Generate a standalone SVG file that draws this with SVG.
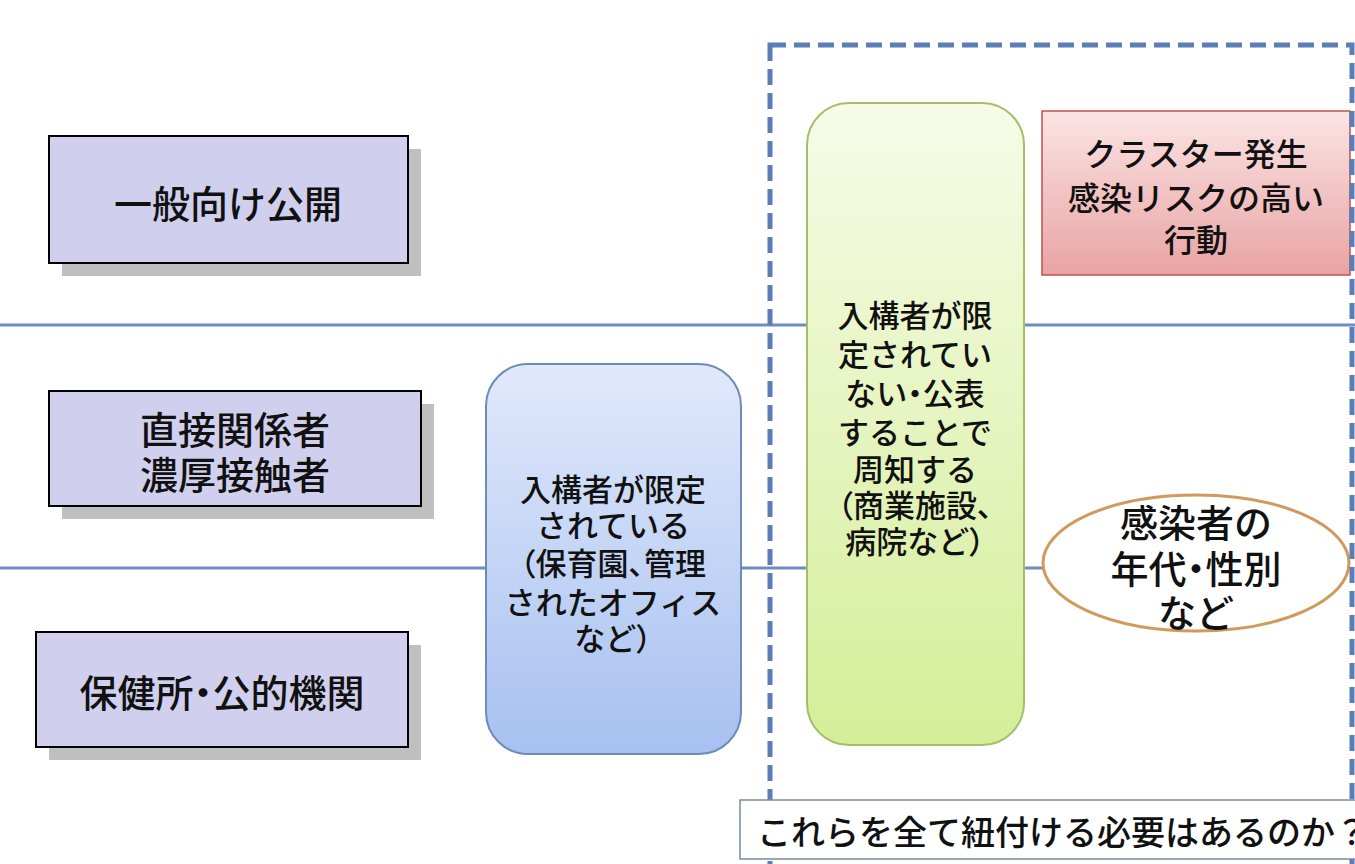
<svg xmlns="http://www.w3.org/2000/svg" width="1355" height="864" viewBox="0 0 1355 864">
<defs>
<linearGradient id="gBlue" x1="0" y1="0" x2="0" y2="1"><stop offset="0" stop-color="#e1e9fb"/><stop offset="1" stop-color="#a7c0f0"/></linearGradient>
<linearGradient id="gGreen" x1="0" y1="0" x2="0" y2="1"><stop offset="0" stop-color="#f7fbe8"/><stop offset="1" stop-color="#d4ee98"/></linearGradient>
<linearGradient id="gRed" x1="0" y1="0" x2="0" y2="1"><stop offset="0" stop-color="#fbe4e4"/><stop offset="1" stop-color="#e9a3a3"/></linearGradient>
<style>
text{font-family:"Noto Sans CJK JP","Noto Sans",sans-serif;fill:#111;text-anchor:middle;dominant-baseline:central;font-weight:500}
.p{font-feature-settings:"palt"}
.cat{fill:#d0d0ee;stroke:#000;stroke-width:2}
.sh{fill:#bfbfbf}
.t38{font-size:38px}
.t30{font-size:31px}
.line{stroke:#6f8cbf;stroke-width:3;fill:none}
</style>
</defs>
<rect width="1355" height="864" fill="#fff"/>
<g id="connectors">
<line class="line" x1="0" y1="325" x2="1355" y2="325"/>
<line class="line" x1="0" y1="568" x2="1045" y2="568"/>
</g>
<g id="cat-general">
<rect class="sh" x="62" y="149" width="359" height="127"/>
<rect class="cat" x="49" y="136" width="359" height="127"/>
<text class="t38" x="228" y="201">一般向け公開</text>
</g>
<g id="cat-direct">
<rect class="sh" x="62" y="404" width="372" height="115"/>
<rect class="cat" x="49" y="391" width="372" height="115"/>
<text class="t38" x="235" y="427">直接関係者</text>
<text class="t38" x="235" y="472">濃厚接触者</text>
</g>
<g id="cat-health">
<rect class="sh" x="49" y="645" width="372" height="115"/>
<rect class="cat" x="36" y="632" width="372" height="115"/>
<text class="t38" x="222" y="690">保健所<tspan class="p">・</tspan>公的機関</text>
</g>
<g id="limited">
<rect x="486" y="364" width="255" height="390" rx="42" fill="url(#gBlue)" stroke="#6d8ab8" stroke-width="2"/>
<text class="t30" x="613" y="487">入構者が限定</text>
<text class="t30" x="613" y="523">されている</text>
<text class="t30" x="613" y="561"><tspan class="p">（</tspan>保育園<tspan class="p">、</tspan>管理</text>
<text class="t30" x="613" y="600">されたオフィス</text>
<text class="t30" x="613" y="636">など<tspan class="p">）</tspan></text>
</g>
<g id="unlimited">
<rect x="807" y="103" width="217" height="642" rx="42" fill="url(#gGreen)" stroke="#a5be6a" stroke-width="2"/>
<text class="t30" x="915" y="313">入構者が限</text>
<text class="t30" x="915" y="352">定されてい</text>
<text class="t30" x="915" y="391">ない<tspan class="p">・</tspan>公表</text>
<text class="t30" x="915" y="430">することで</text>
<text class="t30" x="915" y="467">周知する</text>
<text class="t30" x="915" y="503"><tspan class="p">（</tspan>商業施設<tspan class="p">、</tspan></text>
<text class="t30" x="915" y="539">病院など<tspan class="p">）</tspan></text>
</g>
<g id="cluster">
<rect x="1042" y="111" width="308" height="164" fill="url(#gRed)" stroke="#c0504d" stroke-width="1.5"/>
<text x="1196" y="152" style="font-size:32px">クラスター発生</text>
<text x="1196" y="196" style="font-size:32px">感染リスクの高い</text>
<text x="1196" y="238" style="font-size:32px">行動</text>
</g>
<g id="attributes">
<ellipse cx="1196" cy="563" rx="153" ry="68" fill="#fff" stroke="#d09a5c" stroke-width="3"/>
<text x="1196" y="520" style="font-size:38px">感染者の</text>
<text x="1196" y="566" style="font-size:38px">年代<tspan class="p">・</tspan>性別</text>
<text x="1196" y="610" style="font-size:38px">など</text>
</g>
<g id="scope">
<rect x="770" y="45" width="582" height="830" fill="none" stroke="#5b7db8" stroke-width="5" stroke-dasharray="16 8"/>
</g>
<g id="question">
<rect x="740" y="800" width="630" height="59" fill="#fff" stroke="#7a8aa0" stroke-width="1.5"/>
<text x="757" y="830" style="font-size:34px;text-anchor:start">これらを全て紐付ける必要はあるのか？</text>
</g>
</svg>
